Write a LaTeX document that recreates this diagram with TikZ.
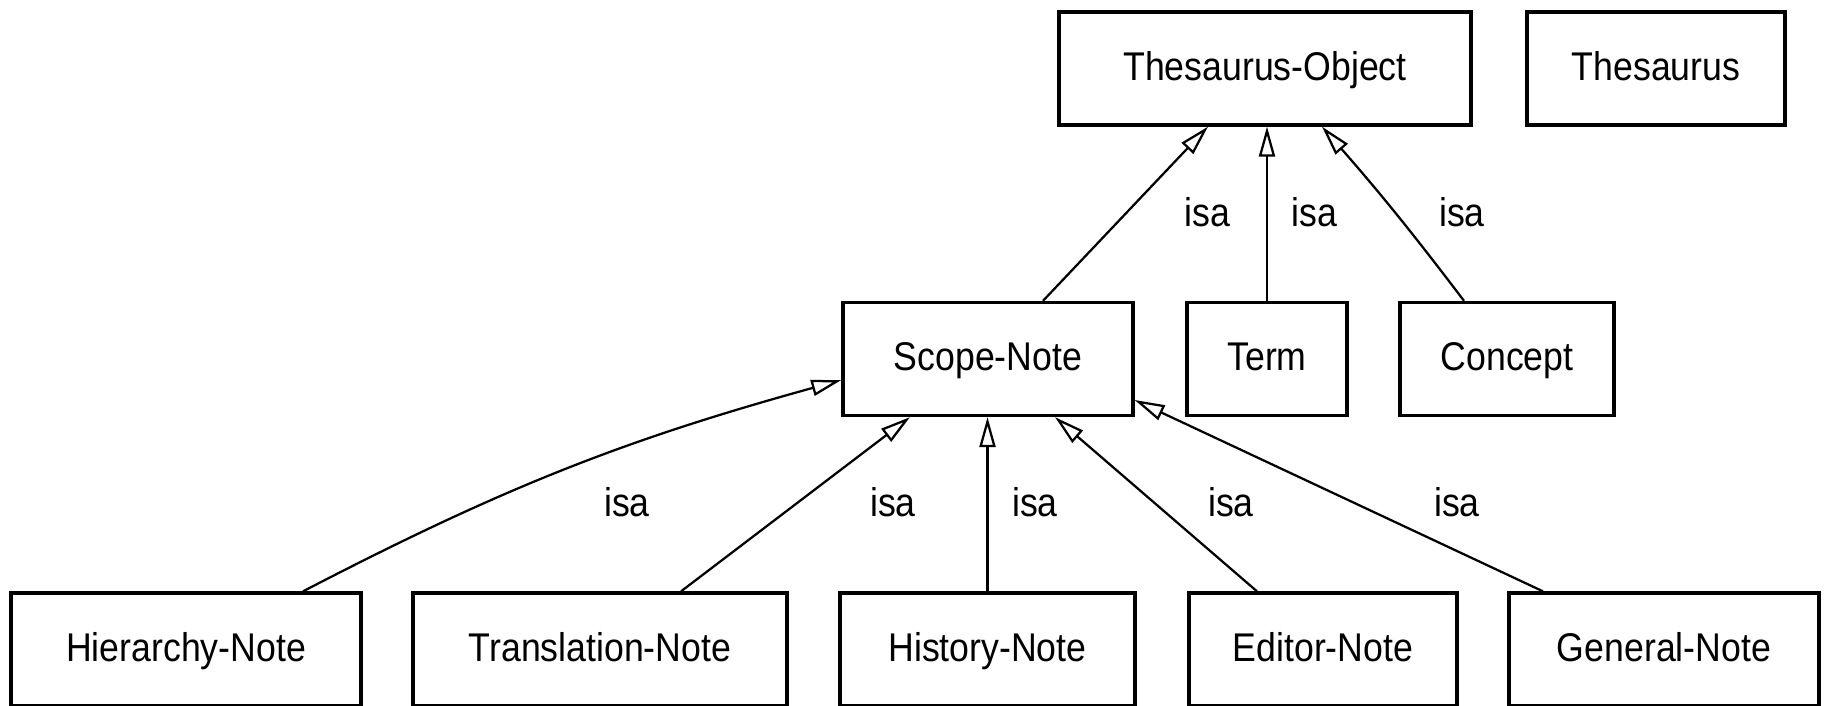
\documentclass[tikz,border=0pt]{standalone}
\usepackage{fontspec}
\setmainfont{Liberation Sans}[FakeStretch=0.89]
\usetikzlibrary{arrows.meta}

\begin{document}
\begin{tikzpicture}[
    box/.style={draw, line width=0.066cm, inner sep=0pt, minimum height=2.26cm, text height=0.66cm, text depth=0.2cm, font=\fontsize{22.8}{27}\selectfont},
    isa/.style={-{Triangle[open,length=0.6cm,width=0.32cm]}, line width=0.045cm},
    isalabel/.style={inner sep=0pt, font=\fontsize{22.8}{27}\selectfont}
  ]
    \useasboundingbox (0,0) rectangle (36.5,14.1);

    % top row
    \node[box, minimum width=8.24cm] (tobj)    at (25.30,12.73) {Thesaurus-Object};
    \node[box, minimum width=5.16cm] (thes)    at (33.12,12.73) {Thesaurus};

    % middle row
    \node[box, minimum width=5.8cm]  (scope)   at (19.76,6.92)  {Scope-Note};
    \node[box, minimum width=3.2cm]  (term)    at (25.34,6.92)  {Term};
    \node[box, minimum width=4.28cm] (concept) at (30.14,6.92)  {Concept};

    % bottom row
    \node[box, minimum width=7.0cm]  (hier)    at (3.72,1.11)   {Hierarchy-Note};
    \node[box, minimum width=7.48cm] (trans)   at (12.00,1.11)  {Translation-Note};
    \node[box, minimum width=5.9cm]  (hist)    at (19.75,1.11)  {History-Note};
    \node[box, minimum width=5.36cm] (editor)  at (26.46,1.11)  {Editor-Note};
    \node[box, minimum width=6.2cm]  (general) at (33.28,1.11)  {General-Note};

    % isa links to Thesaurus-Object
    \draw[isa] ([xshift=1.1cm]scope.north) -- ([xshift=-1.14cm]tobj.south);
    \draw[isa] (term.north) -- (term.north |- tobj.south);
    \draw[isa] ([xshift=-0.86cm]concept.north) to[bend right=2] ([xshift=1.14cm]tobj.south);

    % isa links to Scope-Note
    \draw[isa] ([xshift=2.34cm]hier.north) to[bend left=6] ([yshift=-0.42cm]scope.west);
    \draw[isa] ([xshift=1.62cm]trans.north) -- ([xshift=-1.56cm]scope.south);
    \draw[isa] (hist.north) -- (hist.north |- scope.south);
    \draw[isa] ([xshift=-1.32cm]editor.north) -- ([xshift=1.34cm]scope.south);
    \draw[isa] ([xshift=-2.42cm]general.north) -- ([yshift=-0.82cm]scope.east);

    % labels
    \node[isalabel] (isa1) at (24.15,9.86) {isa};
    \node[isalabel] (isa2) at (26.29,9.86) {isa};
    \node[isalabel] (isa3) at (29.24,9.86) {isa};
    \node[isalabel] (isa4) at (12.54,4.06) {isa};
    \node[isalabel] (isa5) at (17.86,4.06) {isa};
    \node[isalabel] (isa6) at (20.70,4.06) {isa};
    \node[isalabel] (isa7) at (24.62,4.06) {isa};
    \node[isalabel] (isa8) at (29.14,4.06) {isa};
\end{tikzpicture}
\end{document}
